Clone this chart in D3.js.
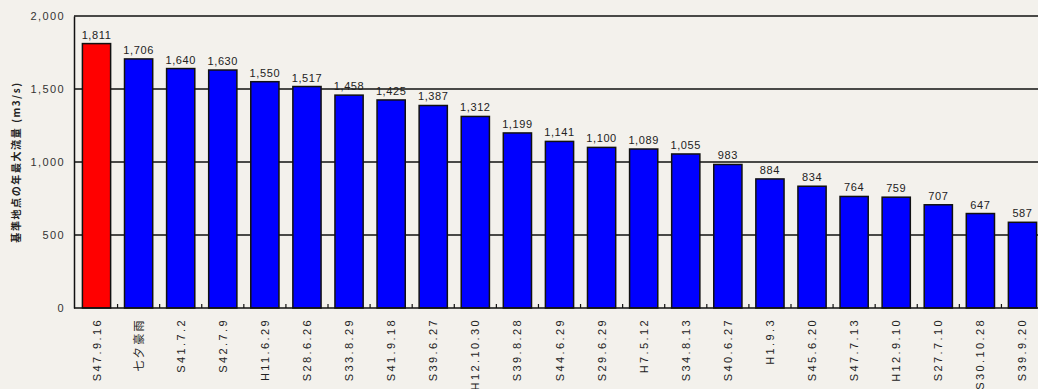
<!DOCTYPE html>
<html>
<head>
<meta charset="utf-8">
<script src="https://cdn.jsdelivr.net/npm/d3@7"></script>
<style>
  html, body { margin: 0; padding: 0; background: #f3f1ec; }
  svg { display: block; }
</style>
</head>
<body>
<svg id="chart" width="1038" height="389"></svg>
<script>
// Flood events ranked by peak discharge
const events = ["S47.9.16", "七夕豪雨", "S41.7.2", "S42.7.9", "H11.6.29", "S28.6.26", "S33.8.29",
  "S41.9.18", "S39.6.27", "H12.10.30", "S39.8.28", "S44.6.29", "S29.6.29", "H7.5.12", "S34.8.13",
  "S40.6.27", "H1.9.3", "S45.6.20", "S47.7.13", "H12.9.10", "S27.7.10", "S30.10.28", "S39.9.20"];
const peakFlow = [1811, 1706, 1640, 1630, 1550, 1517, 1458, 1425, 1387, 1312, 1199, 1141, 1100,
  1089, 1055, 983, 884, 834, 764, 759, 707, 647, 587];
const yTicks = [0, 500, 1000, 1500, 2000];
const yTitle = "基準地点の年最大流量 (m3/s)";

const svg = d3.select("#chart");
const plotLeft = 74, plotTop = 16, plotBottom = 308, plotRight = 1045;

const x = d3.scaleBand().domain(events).range([plotLeft, plotRight]).paddingInner(0.33).paddingOuter(0.2);
const y = d3.scaleLinear().domain([0, 2000]).range([plotBottom, plotTop]);

// horizontal gridlines and frame
svg.append("g").selectAll("line").data(yTicks.slice(1)).join("line")
  .attr("x1", plotLeft).attr("x2", 1038)
  .attr("y1", d => y(d)).attr("y2", d => y(d))
  .attr("stroke", "#111").attr("stroke-width", 1.4);

// bars
svg.append("g").selectAll("rect").data(events).join("rect")
  .attr("x", d => x(d))
  .attr("y", (d, i) => y(peakFlow[i]))
  .attr("width", x.bandwidth())
  .attr("height", (d, i) => y(0) - y(peakFlow[i]))
  .attr("fill", (d, i) => i === 0 ? "#ff0000" : "#0000ff")
  .attr("stroke", "#111").attr("stroke-width", 1.5);

// value labels
const fmt = d3.format(",");
svg.append("g").selectAll("text").data(events).join("text")
  .attr("x", d => x(d) + x.bandwidth() / 2)
  .attr("y", (d, i) => y(peakFlow[i]) - 5)
  .attr("text-anchor", "middle")
  .attr("font-family", "Liberation Sans, Arial, sans-serif")
  .attr("font-size", 11)
  .attr("letter-spacing", 0.6)
  .attr("fill", "#222")
  .text((d, i) => fmt(peakFlow[i]));

// y axis
const yAxis = d3.axisLeft(y).tickValues(yTicks).tickFormat(fmt).tickSize(0).tickPadding(9);
const gy = svg.append("g").attr("transform", `translate(${plotLeft},0)`).call(yAxis);
gy.select(".domain").attr("stroke", "#111").attr("stroke-width", 1.5);
gy.selectAll("text").attr("font-family", "Liberation Sans, Arial, sans-serif")
  .attr("font-size", 11).attr("letter-spacing", 1.4).attr("fill", "#333");

// x axis with short inward ticks between categories
const gx = svg.append("g").attr("transform", `translate(0,${plotBottom})`);
gx.append("line").attr("x1", plotLeft).attr("x2", 1038).attr("y1", 0).attr("y2", 0)
  .attr("stroke", "#111").attr("stroke-width", 1.5);
gx.selectAll("line.tick").data(events.slice(1)).join("line").attr("class", "tick")
  .attr("x1", d => x(d) - x.step() * x.paddingInner() / 2)
  .attr("x2", d => x(d) - x.step() * x.paddingInner() / 2)
  .attr("y1", 0).attr("y2", -4)
  .attr("stroke", "#111").attr("stroke-width", 1.2);
gx.selectAll("text").data(events).join("text")
  .attr("transform", d => `translate(${x(d) + x.bandwidth() / 2 + 4},10) rotate(-90)`)
  .attr("text-anchor", "end")
  .attr("font-family", "Liberation Sans, 'Noto Sans CJK JP', sans-serif")
  .attr("font-size", 11)
  .attr("letter-spacing", 2.4)
  .attr("fill", "#222")
  .text(d => d);

// y axis title
svg.append("text")
  .attr("transform", "translate(20,162) rotate(-90)")
  .attr("text-anchor", "middle")
  .attr("font-family", "'Noto Sans CJK JP', sans-serif")
  .attr("font-size", 10)
  .attr("letter-spacing", 1.6)
  .attr("font-weight", "bold")
  .attr("fill", "#222")
  .text(yTitle);
</script>
</body>
</html>
